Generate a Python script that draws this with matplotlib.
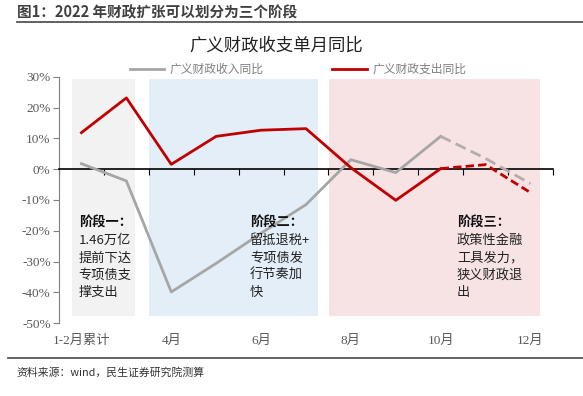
import matplotlib.pyplot as plt
from matplotlib.lines import Line2D
import numpy as np

plt.rcParams['font.family'] = ['Noto Sans CJK SC', 'DejaVu Sans']

# 数据
months = ['1-2月累计', '3月', '4月', '5月', '6月', '7月', '8月', '9月', '10月', '11月', '12月']
revenue = [1.8, -3.8, -39.9, -30.6, -20.8, -11.5, 3.1, -1.1, 10.7, 3.5, -4.7]
expend = [11.9, 23.2, 1.6, 10.7, 12.7, 13.2, 0.5, -10.1, 0.2, 1.5, -7.6]
n_solid = 9   # 10月以后为虚线
stages = [(-0.22, 1.19, '#F2F2F2'), (1.5, 5.26, '#E3EEF8'), (5.51, 10.21, '#F7E3E3')]
stage_x = [-0.06, 3.75, 8.36]
stage_title = ['阶段一：', '阶段二：', '阶段三：']
stage_body = ['1.46万亿\n提前下达\n专项债支\n撑支出',
              '留抵退税+\n专项债发\n行节奏加\n快',
              '政策性金融\n工具发力，\n狭义财政退\n出']
yticks = np.arange(-50, 31, 10)

x = np.arange(len(months))
red = '#C00000'
grey = '#A6A6A6'

fig = plt.figure(figsize=(5.83, 3.96), dpi=100)
ax = fig.add_axes([0.1012, 0.1843, 0.8473, 0.6213])

for x0, x1, c in stages:
    ax.fill_between([x0, x1], -47.7, 29.5, color=c, lw=0, zorder=0)

ax.plot(x[:n_solid], revenue[:n_solid], color=grey, lw=2, zorder=3, label='广义财政收入同比')
ax.plot(x[n_solid - 1:], revenue[n_solid - 1:], color='#B8ABAB', lw=2, ls=(0, (4, 2)), zorder=3)
ax.plot(x[:n_solid], expend[:n_solid], color=red, lw=2, zorder=4, label='广义财政支出同比')
ax.plot(x[n_solid - 1:], expend[n_solid - 1:], color=red, lw=2, ls=(0, (3, 1.5)), zorder=4)

for sx, t, b in zip(stage_x, stage_title, stage_body):
    ax.text(sx, -15.0, t, fontsize=9.5, fontweight='bold', va='top', ha='left', color='#111111', zorder=5)
    ax.text(sx, -21.0, b, fontsize=9.5, va='top', ha='left', color='#222222', linespacing=1.45, zorder=5)

ax.set_xlim(-0.5, 10.5)
ax.set_ylim(-50, 30)
ax.set_yticks(yticks)
ax.set_yticklabels([f'{v}%' for v in yticks], family=['Liberation Serif', 'DejaVu Sans'],
                   fontsize=9.5, color='#595959')
ax.tick_params(axis='y', direction='out', length=4, color='#808080', pad=2)

for s in ['top', 'right']:
    ax.spines[s].set_visible(False)
ax.spines['left'].set_color('#808080')
ax.spines['bottom'].set_position(('data', 0))
ax.spines['bottom'].set_color('black')
ax.spines['bottom'].set_linewidth(1.2)

ax.set_xticks(np.arange(-0.5, 10.6, 1))
ax.set_xticklabels([])
ax.tick_params(axis='x', which='major', direction='out', length=4, color='black')
ax.set_xticks(x[::2], minor=True)
ax.set_xticklabels(months[::2], minor=True, family=['Liberation Serif', 'Noto Sans CJK SC'],
                   fontsize=9.5, color='#595959')
ax.tick_params(axis='x', which='minor', length=0, pad=119)

leg = ax.legend(loc='lower center', bbox_to_anchor=(0.484, 0.985), ncol=2, frameon=False,
                fontsize=8.5, handlelength=2.9, handletextpad=0.5, columnspacing=5.8,
                borderaxespad=0)
for t in leg.get_texts():
    t.set_color('#7F7F7F')

fig.text(0.473, 0.886, '广义财政收支单月同比', ha='center', va='center', fontsize=12.5, color='#222222')
fig.text(0.029, 0.968, '图1：2022 年财政扩张可以划分为三个阶段', ha='left', va='center',
         fontsize=10.5, fontweight='bold', color='#404040')
fig.add_artist(Line2D([0.029, 1.0], [0.944, 0.944], color='#555555', lw=1.3))
fig.add_artist(Line2D([0.014, 1.0], [0.096, 0.096], color='#555555', lw=1.3))
fig.text(0.029, 0.060, '资料来源：wind，民生证券研究院测算', ha='left', va='center',
         fontsize=7.8, color='#333333')

fig.savefig('out.png', dpi=100)
